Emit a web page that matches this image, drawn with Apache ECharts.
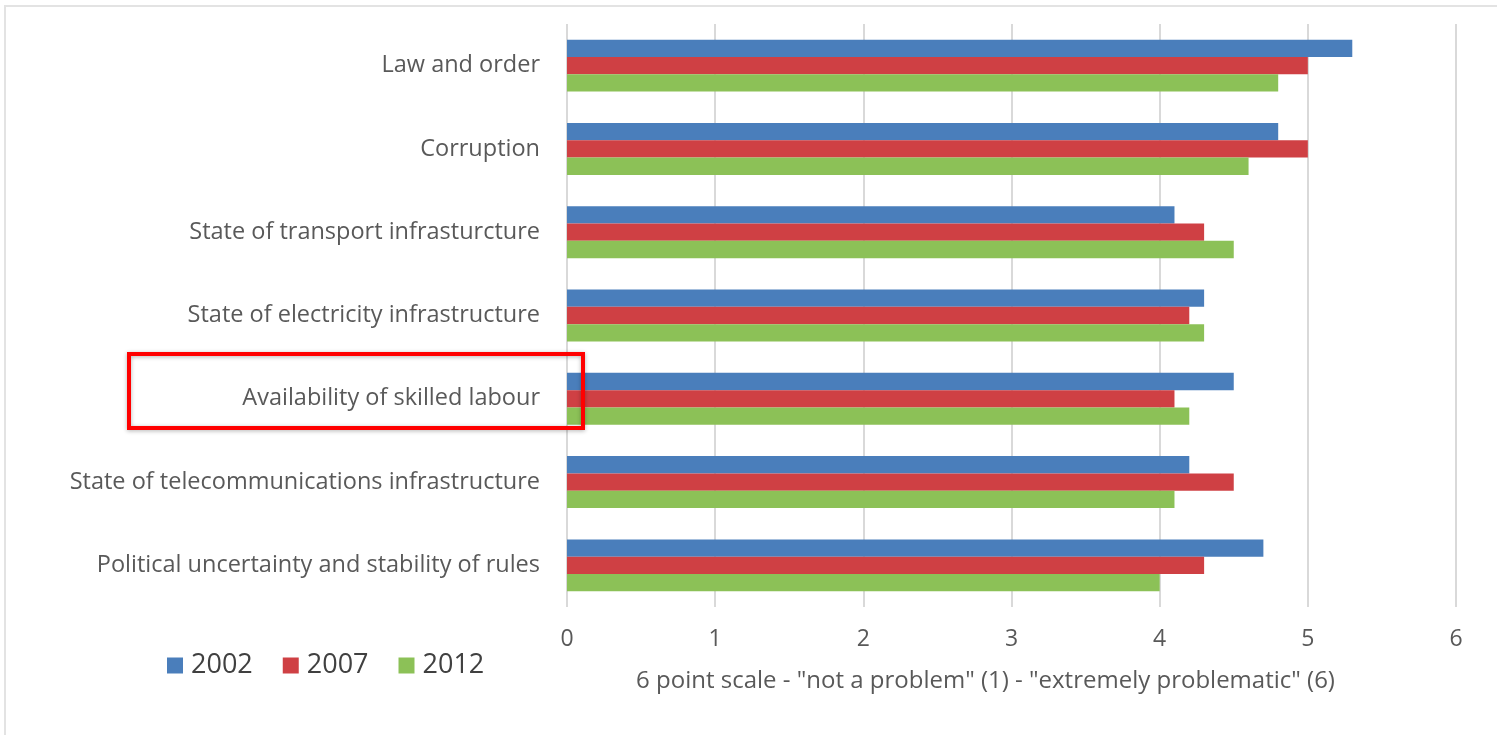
<!DOCTYPE html>
<html>
<head>
<meta charset="utf-8">
<script src="https://cdn.jsdelivr.net/npm/echarts@6/dist/echarts.min.js"></script>
<style>html,body{margin:0;padding:0;background:#fff;}#c{width:1497px;height:735px;}</style>
</head>
<body>
<div id="c"></div>
<script>
var categories = ["Law and order","Corruption","State of transport infrasturcture","State of electricity infrastructure","Availability of skilled labour","State of telecommunications infrastructure","Political uncertainty and stability of rules"];
var s2002 = [5.3,4.8,4.1,4.3,4.5,4.2,4.7];
var s2007 = [5.0,5.0,4.3,4.2,4.1,4.5,4.3];
var s2012 = [4.8,4.6,4.5,4.3,4.2,4.1,4.0];
var seriesNames = ["2002","2007","2012"];
var xTicks = [0,1,2,3,4,5,6];

var chart = echarts.init(document.getElementById('c'));
var font = '"Open Sans", sans-serif';
function mk(name, data, color){
  return {name:name,type:'bar',data:data,barWidth:17.3,barGap:'0%',itemStyle:{color:color}};
}
chart.setOption({
  animation:false,
  textStyle:{fontFamily:font},
  grid:{left:567,right:41,top:24,bottom:128,containLabel:false},
  legend:{
    left:167,top:652,padding:0,itemWidth:16,itemHeight:16,itemGap:30,icon:'rect',
    textStyle:{fontSize:27,color:'#404040',fontFamily:font,padding:[0,0,0,3]},
    data:seriesNames
  },
  xAxis:{
    type:'value',min:xTicks[0],max:xTicks[xTicks.length-1],interval:1,
    axisLine:{show:false},axisTick:{show:false},
    splitLine:{lineStyle:{color:'#d9d9d9',width:2}},
    axisLabel:{fontSize:23,color:'#595959',margin:21},
    name:'6 point scale - "not a problem" (1) - "extremely problematic" (6)',
    nameLocation:'middle',nameGap:62,
    nameTextStyle:{fontSize:24,color:'#595959',padding:[0,52,0,0]}
  },
  yAxis:{
    type:'category',data:categories,inverse:true,
    axisLine:{show:false},axisTick:{show:false},
    axisLabel:{fontSize:23.5,color:'#595959',margin:27}
  },
  series:[mk(seriesNames[0],s2002,'#4a7ebb'),mk(seriesNames[1],s2007,'#cf4044'),mk(seriesNames[2],s2012,'#8cc157')],
  graphic:[
    {type:'rect',shape:{x:5,y:6,width:1600,height:800},style:{fill:'none',stroke:'#e3e3e3',lineWidth:2},silent:true},
    {type:'rect',shape:{x:129,y:354,width:454,height:74},style:{fill:'none',stroke:'#ff0000',lineWidth:4,shadowBlur:4,shadowColor:'rgba(0,0,0,0.3)',shadowOffsetY:1},silent:true,z:100}
  ]
});
</script>
</body>
</html>
